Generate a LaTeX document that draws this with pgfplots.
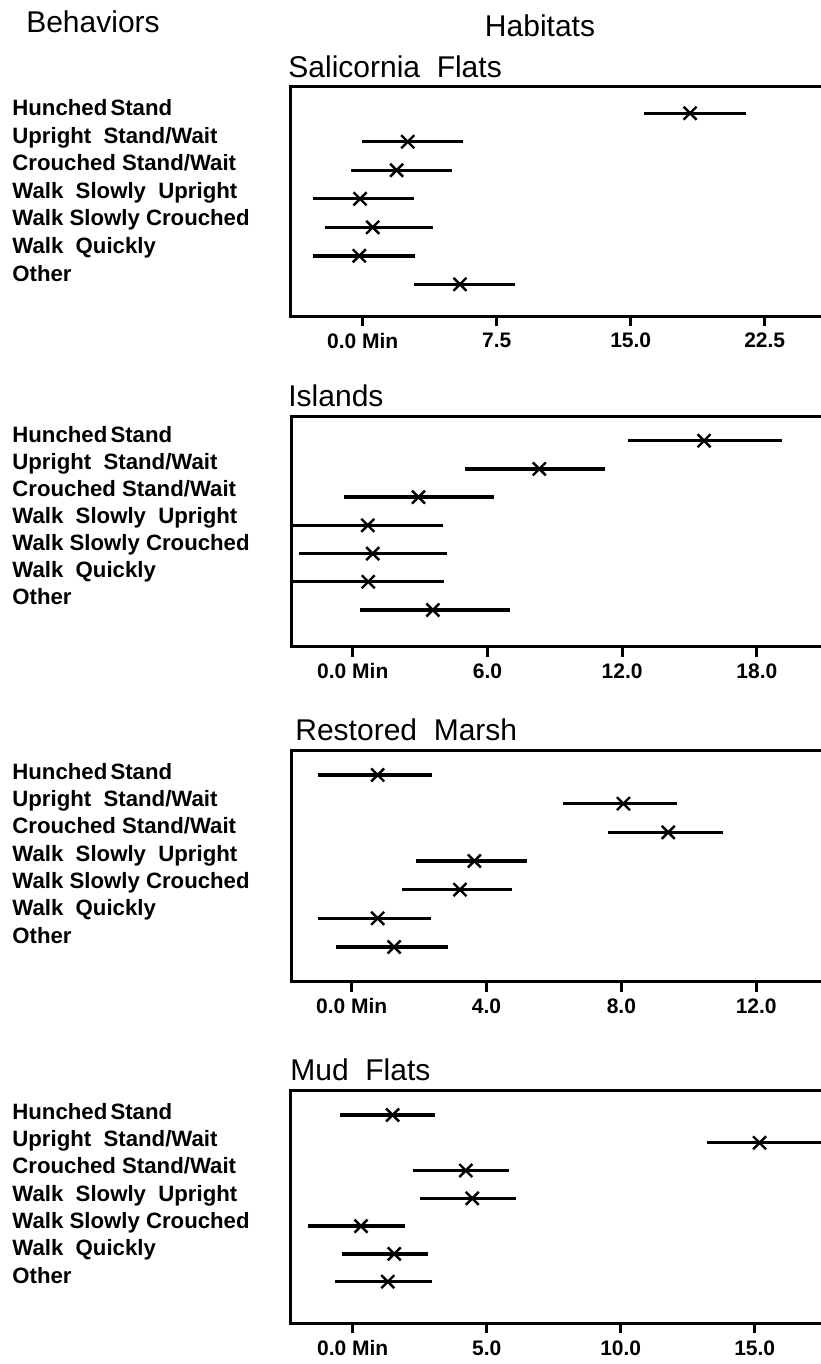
\documentclass[border=0pt]{standalone}
\usepackage{fontspec}
\setmainfont{Liberation Sans}
\usepackage{pgfplots}
\usepackage{pgfplotstable}
\pgfplotsset{compat=1.18}

% row: 7 = Hunched Stand ... 1 = Other; lo / mid / hi in minutes
\pgfplotstableread{
row lo mid hi
7 15.74 18.32 21.45
6 -0.04 2.52 5.60
5 -0.65 1.90 5.02
4 -2.80 -0.15 2.89
3 -2.09 0.56 3.92
2 -2.80 -0.19 2.94
1 2.89 5.44 8.54
}\salicornia
\pgfplotstableread{
row lo mid hi
7 12.28 15.65 19.14
6 5.00 8.31 11.24
5 -0.37 2.93 6.31
4 -2.65 0.67 4.04
3 -2.41 0.89 4.21
2 -2.65 0.69 4.06
1 0.33 3.57 7.00
}\islands
\pgfplotstableread{
row lo mid hi
7 -0.99 0.77 2.37
6 6.28 8.06 9.66
5 7.61 9.39 11.01
4 1.91 3.64 5.21
3 1.48 3.21 4.75
2 -0.99 0.77 2.34
1 -0.47 1.26 2.87
}\marsh
\pgfplotstableread{
row lo mid hi
7 -0.47 1.49 3.07
6 13.21 15.18 17.60
5 2.26 4.22 5.84
4 2.51 4.46 6.09
3 -1.66 0.31 1.96
2 -0.41 1.55 2.82
1 -0.66 1.31 2.97
}\mud

\pgfplotsset{
  panel/.style={
    scale only axis,
    axis line style={line width=1.5pt},
    ytick=\empty,
    xtick pos=bottom,
    tick align=outside,
    major tick length=5pt,
    tick style={line width=1.4pt, black},
    xticklabel style={font=\fontsize{10.5}{12}\selectfont\bfseries},
  },
  ci/.style={
    black, only marks, mark=x, mark size=4.6pt,
    mark options={line width=1.2pt},
    error bars/.cd, x dir=both, x explicit,
    error bar style={line width=1.7pt}, error mark=none,
  },
}
\newcommand{\ciplot}[1]{%
  \addplot[ci] table[x=mid, y=row,
    x error plus expr=\thisrow{hi}-\thisrow{mid},
    x error minus expr=\thisrow{mid}-\thisrow{lo}] {#1};}

\newcommand{\behaviors}[2]{% baseline of first row (px), row spacing (px)
  \foreach \lab [count=\i from 0] in {Hunched\kern-1.5pt\ Stand, Upright\ \ Stand/Wait,
      Crouched\ Stand/Wait, Walk\ \ Slowly\ \ Upright, Walk\ Slowly\ Crouched,
      Walk\ \ Quickly, Other}
    \node[anchor=base west, inner sep=0pt, font=\fontsize{11.1}{13}\selectfont\bfseries]
      at ({12*0.5pt},{-(#1+\i*#2)*0.5pt}) {\lab};}

\begin{document}
\begin{tikzpicture}
\tikzset{ttl/.style={inner sep=0pt, font=\fontsize{15}{17}\selectfont}}
\node[ttl, anchor=base] at ({93*0.5pt},{-33*0.5pt}) {Behaviors};
\node[ttl, anchor=base] at ({540*0.5pt},{-37*0.5pt}) {Habitats};

\node[ttl, anchor=base west] at ({288*0.5pt},{-78*0.5pt}) {Salicornia\ \ Flats};
\behaviors{116}{27.5}
\begin{axis}[panel, at={(145pt,-43.5pt)}, anchor=north west,
  width=268pt, height=114.5pt,
  xmin=-4.07, xmax=25.93, ymin=-0.11, ymax=7.92,
  xtick={0,7.5,15,22.5}, xticklabels={0.0 Min,7.5,15.0,22.5}]
\ciplot{\salicornia}
\end{axis}

\node[ttl, anchor=base west] at ({288*0.5pt},{-406.7*0.5pt}) {Islands};
\behaviors{442.3}{27.1}
\begin{axis}[panel, at={(145.85pt,-208.35pt)}, anchor=north west,
  width=267.15pt, height=115pt,
  xmin=-2.72, xmax=21.08, ymin=-0.30, ymax=7.85,
  xtick={0,6,12,18}, xticklabels={0.0 Min,6.0,12.0,18.0}]
\ciplot{\islands}
\end{axis}

\node[ttl, anchor=base west] at ({295*0.5pt},{-740*0.5pt}) {Restored\ \ Marsh};
\behaviors{779.3}{27.3}
\begin{axis}[panel, at={(145.85pt,-375pt)}, anchor=north west,
  width=267.15pt, height=115.85pt,
  xmin=-1.78, xmax=14.07, ymin=-0.21, ymax=7.87,
  xtick={0,4,8,12}, xticklabels={0.0 Min,4.0,8.0,12.0}]
\ciplot{\marsh}
\end{axis}

\node[ttl, anchor=base west] at ({290*0.5pt},{-1080*0.5pt}) {Mud\ \ Flats};
\behaviors{1119.3}{27.3}
\begin{axis}[panel, at={(145pt,-545pt)}, anchor=north west,
  width=268pt, height=116.65pt,
  xmin=-2.34, xmax=17.66, ymin=-0.50, ymax=7.90,
  xtick={0,5,10,15}, xticklabels={0.0 Min,5.0,10.0,15.0}]
\ciplot{\mud}
\end{axis}

\pgfresetboundingbox
\useasboundingbox (0,0) rectangle (410pt,-682pt);
\end{tikzpicture}
\end{document}
